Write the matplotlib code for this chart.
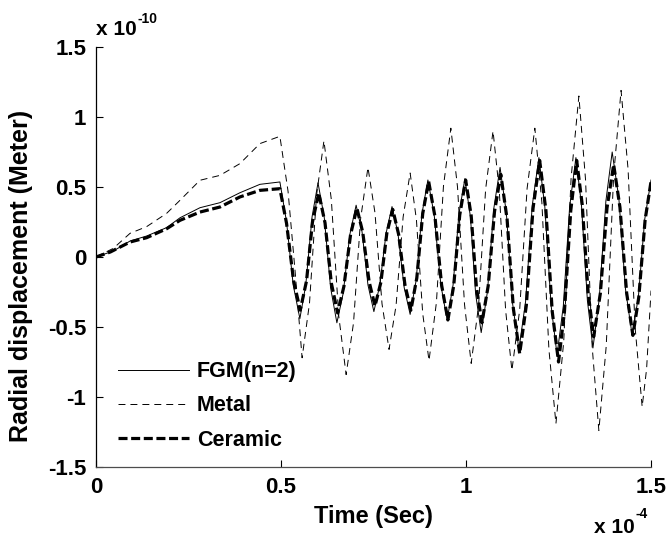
import matplotlib
matplotlib.use("Agg")
import matplotlib.pyplot as plt

plt.rcParams['font.family'] = ['Liberation Sans', 'DejaVu Sans']
plt.rcParams['font.weight'] = 'bold'
plt.rcParams['lines.scale_dashes'] = False

# time in units of 1e-4 s, displacement in units of 1e-10 m
# FGM (n=2)
t_fgm = [0, 0.047, 0.092, 0.137, 0.191, 0.227, 0.281, 0.335, 0.389, 0.443, 0.497,
         0.515, 0.533, 0.551, 0.567, 0.584, 0.600, 0.617, 0.634, 0.651,
         0.668, 0.686, 0.703, 0.719, 0.735, 0.751, 0.767, 0.784, 0.800,
         0.816, 0.833, 0.849, 0.865, 0.881, 0.897, 0.914, 0.932, 0.949,
         0.965, 0.981, 0.997, 1.012, 1.026, 1.041, 1.058, 1.075, 1.092,
         1.109, 1.126, 1.143, 1.161, 1.179, 1.197, 1.213, 1.230, 1.246,
         1.263, 1.280, 1.297, 1.312, 1.328, 1.343, 1.360, 1.378, 1.395,
         1.413, 1.431, 1.449, 1.466, 1.483, 1.5]
u_fgm = [0, 0.043, 0.114, 0.15, 0.21, 0.28, 0.352, 0.388, 0.459, 0.519, 0.536,
         0.25, -0.20, -0.44, -0.198, 0.288, 0.53, 0.28, -0.22, -0.47,
         -0.26, 0.16, 0.37, 0.18, -0.20, -0.39, -0.20, 0.17, 0.36,
         0.17, -0.22, -0.41, -0.17, 0.31, 0.55, 0.30, -0.20, -0.45,
         -0.20, 0.31, 0.56, 0.285, -0.265, -0.54, -0.245, 0.345, 0.64,
         0.315, -0.335, -0.66, -0.318, 0.368, 0.71, 0.358, -0.348, -0.70,
         -0.348, 0.358, 0.71, 0.37, -0.31, -0.65, -0.30, 0.40, 0.75,
         0.42, -0.23, -0.56, -0.28, 0.27, 0.55]

# Metal
t_metal = [0, 0.047, 0.092, 0.137, 0.191, 0.227, 0.281, 0.335, 0.389, 0.443, 0.497,
           0.519, 0.538, 0.557, 0.577, 0.596, 0.616, 0.636, 0.656, 0.676,
           0.696, 0.715, 0.735, 0.754, 0.773, 0.792, 0.811, 0.830, 0.849,
           0.866, 0.883, 0.900, 0.920, 0.939, 0.959, 0.977, 0.996, 1.014,
           1.034, 1.053, 1.073, 1.090, 1.107, 1.124, 1.145, 1.165, 1.186,
           1.205, 1.224, 1.243, 1.264, 1.284, 1.305, 1.323, 1.341, 1.359,
           1.379, 1.399, 1.419, 1.438, 1.457, 1.476, 1.488, 1.5]
u_metal = [0, 0.062, 0.169, 0.217, 0.312, 0.405, 0.548, 0.583, 0.667, 0.81, 0.862,
           0.47, -0.10, -0.72, -0.33, 0.44, 0.83, 0.41, -0.42, -0.84,
           -0.47, 0.27, 0.64, 0.315, -0.335, -0.66, -0.345, 0.285, 0.60,
           0.265, -0.405, -0.74, -0.325, 0.505, 0.92, 0.50, -0.34, -0.76,
           -0.345, 0.485, 0.90, 0.47, -0.38, -0.81, -0.378, 0.488, 0.92,
           0.39, -0.66, -1.19, -0.605, 0.565, 1.15, 0.553, -0.643, -1.24,
           -0.633, 0.583, 1.19, 0.625, -0.505, -1.07, -0.80, -0.24]

# Ceramic
t_cer = [0, 0.039, 0.092, 0.137, 0.191, 0.227, 0.281, 0.335, 0.389, 0.443, 0.497,
         0.515, 0.534, 0.552, 0.569, 0.585, 0.602, 0.619, 0.636, 0.653,
         0.670, 0.688, 0.705, 0.721, 0.738, 0.754, 0.770, 0.786, 0.802,
         0.818, 0.835, 0.851, 0.867, 0.883, 0.899, 0.916, 0.934, 0.951,
         0.967, 0.983, 0.999, 1.014, 1.028, 1.043, 1.060, 1.077, 1.094,
         1.111, 1.128, 1.145, 1.163, 1.181, 1.199, 1.216, 1.233, 1.250,
         1.266, 1.283, 1.299, 1.314, 1.330, 1.345, 1.363, 1.381, 1.399,
         1.416, 1.434, 1.451, 1.467, 1.484, 1.5]
u_cer = [0, 0.036, 0.107, 0.138, 0.202, 0.262, 0.321, 0.357, 0.429, 0.476, 0.488,
         0.24, -0.17, -0.38, -0.17, 0.25, 0.457, 0.243, -0.186, -0.40,
         -0.21, 0.16, 0.35, 0.175, -0.175, -0.35, -0.18, 0.17, 0.34,
         0.16, -0.20, -0.38, -0.15, 0.31, 0.54, 0.29, -0.20, -0.45,
         -0.20, 0.30, 0.55, 0.295, -0.215, -0.47, -0.205, 0.325, 0.59,
         0.27, -0.37, -0.69, -0.345, 0.345, 0.69, 0.33, -0.39, -0.75,
         -0.39, 0.33, 0.69, 0.375, -0.255, -0.57, -0.26, 0.35, 0.66,
         0.355, -0.255, -0.56, -0.285, 0.265, 0.54]

labels = ['FGM(n=2)', 'Metal', 'Ceramic']
x_ticks = [0, 0.5, 1, 1.5]
y_ticks = [-1.5, -1, -0.5, 0, 0.5, 1, 1.5]

fig = plt.figure(figsize=(6.68, 5.39), dpi=100)
ax = fig.add_axes([0.1437, 0.1336, 0.8309, 0.7792])

ax.plot(t_fgm, u_fgm, color='black', lw=0.7, label=labels[0])
ax.plot(t_metal, u_metal, color='black', lw=0.7, dashes=(5, 3.6), label=labels[1])
ax.plot(t_cer, u_cer, color='black', lw=2.3, dashes=(6.5, 2.6), label=labels[2])

ax.set_xlim(0, 1.5)
ax.set_ylim(-1.5, 1.5)
ax.set_xticks(x_ticks)
ax.set_xticklabels(['0', '0.5', '1', '1.5'], fontweight='bold')
ax.set_yticks(y_ticks)
ax.set_yticklabels(['-1.5', '-1', '-0.5', '0', '0.5', '1', '1.5'], fontweight='bold')
ax.tick_params(direction='in', length=5, width=0.8, labelsize=16, pad=7)

for s in ['top', 'right']:
    ax.spines[s].set_visible(False)
ax.spines['left'].set_linewidth(0.9)
ax.spines['bottom'].set_linewidth(0.9)
ax.spines['bottom'].set_color('0.3')

ax.set_xlabel('Time (Sec)', fontsize=17, fontweight='bold', labelpad=5)
ax.set_ylabel('Radial displacement (Meter)', fontsize=18, fontweight='bold')
ax.yaxis.set_label_coords(-0.1135, 0.455)

# MATLAB-style exponent labels
fig.text(96 / 668, 1 - 35 / 539, 'x 10', fontsize=15, fontweight='bold', va='baseline', ha='left')
fig.text(138 / 668, 1 - 23 / 539, '-10', fontsize=10, fontweight='bold', va='baseline', ha='left')
fig.text(594 / 668, 1 - 533 / 539, 'x 10', fontsize=15, fontweight='bold', va='baseline', ha='left')
fig.text(636 / 668, 1 - 518 / 539, '-4', fontsize=10, fontweight='bold', va='baseline', ha='left')

leg = ax.legend(loc='upper left', bbox_to_anchor=(0.04, 0.252), frameon=False,
                prop={'size': 15.5, 'weight': 'bold'}, handlelength=3.3, handletextpad=0.35,
                labelspacing=0.62, borderpad=0, borderaxespad=0)

fig.savefig('out.png', dpi=100)
